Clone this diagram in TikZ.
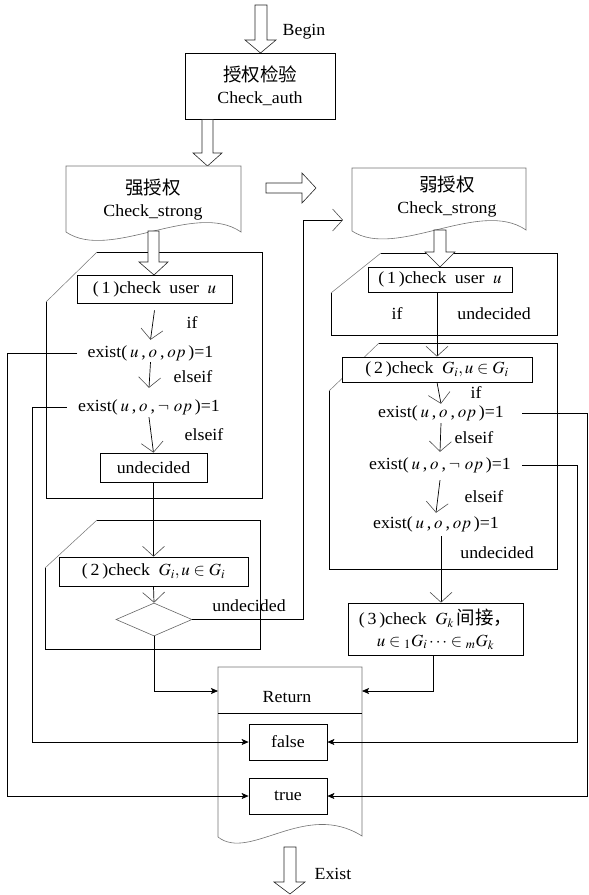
\documentclass[tikz,border=0pt]{standalone}
\usepackage{mathptmx}
\usepackage{fontspec}
\setmainfont{Liberation Serif}[FakeStretch=1.05]
\newfontfamily\cjkfam{Noto Sans CJK SC}
\newcommand{\zhtxt}[1]{{\cjkfam\fontsize{18.5}{22}\selectfont #1}}
\usetikzlibrary{arrows.meta,shapes.geometric}
\tikzset{
  txt/.style={font=\fontsize{17}{22}\selectfont, inner sep=0pt},
  extxt/.style={txt, text height=11pt, text depth=3pt},
  box/.style={draw, line width=0.7pt, fill=white, inner sep=0pt, font=\fontsize{17}{22}\selectfont},
  grp/.style={line width=0.7pt},
  diag/.style={draw=black!55, line width=0.5pt},
  doc/.style={draw=black!55, line width=0.6pt, fill=white},
  blk/.style={draw=black!85, line width=0.6pt, fill=white},
  conn/.style={line width=0.7pt},
  va/.style={conn, -{Straight Barb[length=10pt,width=22pt,line width=0.6pt,color=black!70]}},
  fa/.style={conn, -{Stealth[length=7pt,width=6pt,inset=1.5pt]}},
}
\begin{document}
\begin{tikzpicture}[x=1pt,y=-1pt]
\useasboundingbox (0,0) rectangle (589,895);

% ---- top block arrows and auth box
\draw[blk] (255,5) -- (267,5) -- (267,40) -- (276,40) -- (260.5,53) -- (245,40) -- (255,40) -- cycle;
\node[txt] (begin) at (304,32) {Begin};
\node[box, minimum width=150pt, minimum height=66pt, align=center] (auth) at (260,86) {\zhtxt{授权检验}\\Check\_auth};
\draw[blk] (202,119.5) -- (213,119.5) -- (213,153) -- (222,153) -- (207.5,166) -- (193,153) -- (202,153) -- cycle;

% ---- document shapes
\draw[doc] (66,166) -- (241,166) -- (241,232) .. controls (195,200) and (110,262) .. (66,232) -- cycle;
\node[txt, align=center] (docS) at (153,200) {\zhtxt{强授权}\\Check\_strong};
\draw[blk] (266,183) -- (302,183) -- (302,173) -- (316,188) -- (302,203) -- (302,193) -- (266,193) -- cycle;
\draw[doc] (352,168) -- (526,168) -- (526,230) .. controls (480,198) and (396,260) .. (352,231) -- cycle;
\node[txt, align=center] (docW) at (447,196.5) {\zhtxt{弱授权}\\Check\_strong};

% ---- group outlines
\draw[grp] (97,252) -- (262,252) -- (262,498) -- (46,498) -- (46,302);
\draw[diag] (46,302) -- (97,252);
\draw[grp] (97,520) -- (260,520) -- (260,649) -- (45,649) -- (45,568);
\draw[diag] (45,568) -- (97,520);
\draw[grp] (381,253) -- (557,253) -- (557,335) -- (331,335) -- (331,293);
\draw[diag] (331,293) -- (381,253);
\draw[grp] (379,343) -- (557,343) -- (557,569) -- (329,569) -- (329,391);
\draw[diag] (329,391) -- (379,343);

% ---- block arrows into groups
\draw[blk] (148,231) -- (159,231) -- (159,262) -- (168,262) -- (154,275) -- (139,262) -- (148,262) -- cycle;
\draw[blk] (434,230) -- (446,230) -- (446,252) -- (455,252) -- (440,267) -- (425,252) -- (434,252) -- cycle;

% ---- Return document
\draw[doc] (218,667) -- (362,667) -- (362,836) .. controls (305,800) and (250,862) .. (218,837) -- cycle;
\draw[conn] (218,713) -- (362,713);
\node[txt] (ret) at (287,697) {Return};
\coordinate (retL) at (218,691);
\coordinate (retR) at (362,691);
\draw[blk] (284,847) -- (296,847) -- (296,882) -- (305,882) -- (290,894) -- (274,882) -- (284,882) -- cycle;
\node[txt] (exist) at (333,874) {Exist};

% ---- boxes
\node[box, minimum width=155pt, minimum height=28pt] (s1) at (154.5,289) {(\,1\,)check\enspace user\enspace $u$};
\node[box, minimum width=107pt, minimum height=29pt] (su) at (153.5,467.5) {undecided};
\node[box, minimum width=189pt, minimum height=29pt] (s2) at (153.5,571.5) {(\,2\,)check\enspace $G_i,u\in G_i$};
\node[draw=black!60, line width=0.6pt, diamond, minimum width=76pt, minimum height=33pt, inner sep=0pt, fill=white] (dia) at (154,619.5) {};
\node[box, minimum width=144pt, minimum height=25pt] (w1) at (440,279.5) {(\,1\,)check\enspace user\enspace $u$};
\node[box, minimum width=190pt, minimum height=25pt] (w2) at (437,369.5) {(\,2\,)check\enspace $G_i,u\in G_i$};
\node[box, minimum width=175pt, minimum height=52pt, align=center] (w3) at (435.5,629) {(\,3\,)check\enspace $G_k$\,\zhtxt{间接，}\\$u\in{}_1G_i\cdots\in{}_mG_k$};
\node[box, minimum width=78pt, minimum height=36pt] (fal) at (288,742) {false};
\node[box, minimum width=78pt, minimum height=36pt] (tru) at (288,796) {true};

% ---- strong side text
\node[extxt, minimum width=125pt] (se1) at (150.5,353) {exist(\,$u$\,,\,$o$\,,\,$op$\,)=1};
\node[extxt, minimum width=142pt] (se2) at (149,407) {exist(\,$u$\,,\,$o$\,,\,$\neg$\;$op$\,)=1};
\node[txt] (lif1) at (192,323) {if};
\node[txt] (lel1) at (193,377) {elseif};
\node[txt] (lel2) at (204,435) {elseif};
\node[txt] (lund1) at (249,606) {undecided};

% ---- weak side text
\node[extxt, minimum width=138pt] (we1) at (441,413) {exist(\,$u$\,,\,$o$\,,\,$op$\,)=1};
\node[extxt, minimum width=154pt] (we2) at (440,465) {exist(\,$u$\,,\,$o$\,,\,$\neg$\;$op$\,)=1};
\node[extxt, minimum width=128pt] (we3) at (436,524) {exist(\,$u$\,,\,$o$\,,\,$op$\,)=1};
\node[txt] (lif2) at (397,314) {if};
\node[txt] (lund2) at (494,314) {undecided};
\node[txt] (lif3) at (476,393) {if};
\node[txt] (lel3) at (474,438) {elseif};
\node[txt] (lel4) at (484,497) {elseif};
\node[txt] (lund3) at (497,553) {undecided};

% ---- connector corner coordinates
\coordinate (L1) at (7,0);
\coordinate (L2) at (32,0);
\coordinate (R1) at (587.5,0);
\coordinate (R2) at (577,0);
\coordinate (M) at (303,0);
\coordinate (wtip) at (343,220);

% ---- connectors
\draw[va] ([yshift=-7pt]s1.south) -- ([yshift=6pt]se1.north);
\draw[va] ([yshift=-2pt]se1.south) -- ([yshift=12pt]se2.north);
\draw[va] ([yshift=-3pt]se2.south) -- (su.north);
\draw[va] (su.south) -- (s2.north);
\draw[va] (s2.south) -- (dia.north);
\draw[fa] (dia.south) |- (retL);
\draw[va] (dia.east) -- (dia.east -| M) -- (wtip -| M) -- (wtip);
\draw[fa] ([xshift=-10pt]se1.west) -- (se1.west -| L1) -- (tru.west -| L1) -- (tru.west);
\draw[fa] ([xshift=-11pt]se2.west) -- (se2.west -| L2) -- (fal.west -| L2) -- (fal.west);

\draw[va] (w2.north |- w1.south) -- (w2.north);
\draw[va] (w2.south) -- ([yshift=2pt]we1.north);
\draw[va] ([yshift=-3pt]we1.south) -- ([yshift=6pt]we2.north);
\draw[va] ([yshift=-8pt]we2.south) -- ([yshift=4pt]we3.north);
\draw[va] ([xshift=5pt,yshift=-5pt]we3.south) -- ([xshift=5.5pt]w3.north);
\draw[fa] ([xshift=-2.5pt]w3.south) |- (retR);
\draw[fa] ([xshift=12pt]we1.east) -- (we1.east -| R1) -- (tru.east -| R1) -- (tru.east);
\draw[fa] ([xshift=5pt]we2.east) -- (we2.east -| R2) -- (fal.east -| R2) -- (fal.east);
\end{tikzpicture}
\end{document}
